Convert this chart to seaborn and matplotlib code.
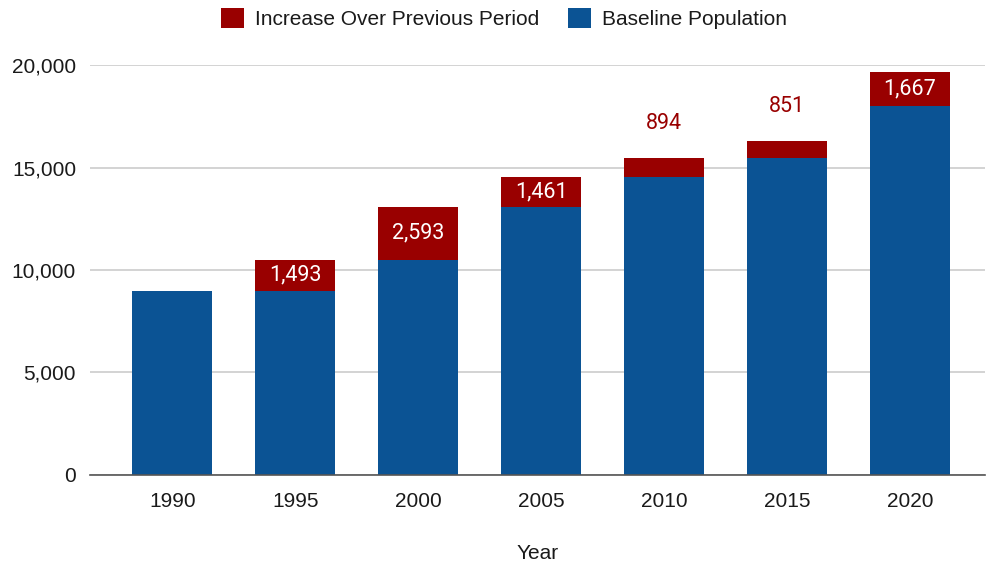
import matplotlib
matplotlib.use("Agg")
import matplotlib.pyplot as plt
import seaborn as sns
import pandas as pd
from matplotlib.patches import Patch
from matplotlib.ticker import FuncFormatter

years = ["1990", "1995", "2000", "2005", "2010", "2015", "2020"]
baseline = [9000, 9000, 10493, 13086, 14547, 15441, 17990]
increase = [0, 1493, 2593, 1461, 894, 851, 1667]

RED = "#990000"
BLUE = "#0B5394"

sns.set_theme(style="white")
plt.rcParams['font.family'] = ['Liberation Sans', 'DejaVu Sans']

df = pd.DataFrame({"Year": years, "Baseline": baseline, "Increase": increase})
df["Total"] = df["Baseline"] + df["Increase"]

fig = plt.figure(figsize=(9.9, 5.66), dpi=100)
ax = fig.add_axes([0.0909, 0.1608, 0.904, 0.7243])

sns.barplot(data=df, x="Year", y="Total", color=RED, width=0.65, saturation=1,
            linewidth=0, edgecolor="none", ax=ax, zorder=2)
sns.barplot(data=df, x="Year", y="Baseline", color=BLUE, width=0.65, saturation=1,
            linewidth=0, edgecolor="none", ax=ax, zorder=3)

ax.set_xlim(-0.67, 6.61)
ax.set_ylim(0, 20000)
ax.set_yticks([0, 5000, 10000, 15000, 20000])
ax.yaxis.set_major_formatter(FuncFormatter(lambda v, p: f"{int(v):,}"))
ax.grid(axis="y", color="#cccccc", linewidth=1.2, zorder=0)
ax.set_axisbelow(True)
for s in ["top", "right", "left"]:
    ax.spines[s].set_visible(False)
ax.spines["bottom"].set_color("#555555")
ax.spines["bottom"].set_linewidth(1.2)
ax.spines["bottom"].set_zorder(4)
ax.tick_params(axis="both", length=0, labelsize=15, colors="#1a1a1a")
ax.tick_params(axis="y", pad=10)
ax.tick_params(axis="x", pad=12)
ax.set_ylabel("")
ax.set_xlabel("Year", fontsize=15, color="#1a1a1a", labelpad=24)

for i, (b, inc) in enumerate(zip(baseline, increase)):
    if inc <= 0:
        continue
    label = f"{inc:,}"
    if inc >= 1000:
        ax.text(i, b + inc / 2, label, ha="center", va="center", color="white",
                fontsize=15.5, fontfamily=["Roboto", "DejaVu Sans"], zorder=5)
    else:
        ax.annotate(label, (i, b + inc), xytext=(0, 25), textcoords="offset points",
                    ha="center", va="center", color=RED, fontsize=15.5,
                    fontfamily=["Roboto", "DejaVu Sans"], zorder=5)

handles = [Patch(facecolor=RED, edgecolor="none", label="Increase Over Previous Period"),
           Patch(facecolor=BLUE, edgecolor="none", label="Baseline Population")]
fig.legend(handles=handles, loc="center", bbox_to_anchor=(0.509, 0.967), ncol=2,
           frameon=False, fontsize=15, handlelength=1.1, handleheight=1.1,
           handletextpad=0.55, columnspacing=1.35, labelcolor="#1a1a1a")

fig.savefig("out.png", dpi=100)
